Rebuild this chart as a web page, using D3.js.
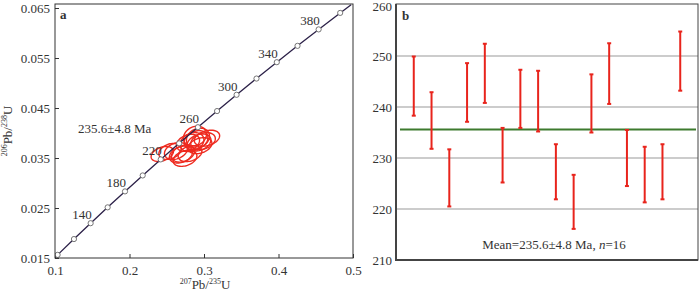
<!DOCTYPE html>
<html>
<head>
  <meta charset="utf-8" />
  <script src="https://d3js.org/d3.v7.min.js"></script>
  <style>
    body{margin:0;background:#fff;}
    svg text{font-family:"Liberation Serif","Times New Roman",serif;fill:#333;}
  </style>
</head>
<body>
<script>
// concordia: ages (Ma) with the two ratios, line endpoints included
var concAge = [96, 100, 120, 140, 160, 180, 200, 220, 240, 260, 280, 300, 320, 340, 360, 380, 400, 410];
var concX = [0.09916, 0.10350, 0.12545, 0.14784, 0.17067, 0.19396, 0.21771, 0.24192, 0.26663, 0.29183, 0.31753, 0.34374, 0.37046, 0.39772, 0.42553, 0.45388, 0.48280, 0.49747];
var concY = [0.01500, 0.01563, 0.01879, 0.02196, 0.02513, 0.02832, 0.03151, 0.03472, 0.03793, 0.04116, 0.04439, 0.04764, 0.05089, 0.05416, 0.05743, 0.06072, 0.06402, 0.06567];
var labelAges = [140, 180, 220, 260, 300, 340, 380];

// spot analyses (207Pb/235U, 206Pb/238U, errors, error correlation)
var r207 = [0.2893, 0.2946, 0.2691, 0.2987, 0.3040, 0.2624, 0.2839, 0.2933, 0.2718, 0.2745, 0.2785, 0.2919, 0.2544, 0.2440, 0.2812, 0.2879];
var e207 = [0.0160, 0.0160, 0.0155, 0.0165, 0.0170, 0.0155, 0.0160, 0.0160, 0.0155, 0.0160, 0.0155, 0.0155, 0.0150, 0.0150, 0.0160, 0.0155];
var r206 = [0.03857, 0.03747, 0.03569, 0.03837, 0.03897, 0.03640, 0.03818, 0.03810, 0.03588, 0.03493, 0.03804, 0.03897, 0.03632, 0.03580, 0.03588, 0.03937];
var e206 = [0.0019, 0.0016, 0.0017, 0.0017, 0.0016, 0.0017, 0.0019, 0.0017, 0.0017, 0.0016, 0.0017, 0.0020, 0.0016, 0.0015, 0.0016, 0.0020];
var rho = [0.25, 0.3, 0.3, 0.3, 0.3, 0.3, 0.25, 0.3, 0.3, 0.3, 0.3, 0.2, 0.3, 0.35, 0.3, 0.2];

// weighted mean plot: 206Pb/238U ages with error bars
var ageHigh = [249.9, 242.9, 231.7, 248.6, 252.4, 235.9, 247.3, 247.1, 232.7, 226.7, 246.4, 252.5, 235.5, 232.2, 232.7, 254.8];
var ageLow = [238.3, 231.8, 220.5, 237.1, 240.8, 225.2, 235.9, 235.2, 221.9, 216.1, 235.0, 240.6, 224.5, 221.3, 221.9, 243.2];
var meanAge = 235.6;
var xTicksA = [0.1, 0.2, 0.3, 0.4, 0.5];
var yTicksA = [0.015, 0.025, 0.035, 0.045, 0.055, 0.065];
var yTicksB = [210, 220, 230, 240, 250, 260];
var gridB = [220, 230, 240, 250];

var svg = d3.select('body').append('svg').attr('width', 700).attr('height', 293);

// ---------- panel a ----------
var xa = d3.scaleLinear().domain([0.1, 0.5]).range([55, 353]);
var ya = d3.scaleLinear().domain([0.015, 0.0658]).range([258, 4]);

svg.append('clipPath').attr('id', 'clipA').append('rect')
  .attr('x', 55).attr('y', 4).attr('width', 298).attr('height', 254);

var ga = svg.append('g');
ga.append('g').attr('transform', 'translate(0,258)')
  .call(d3.axisBottom(xa).tickValues(xTicksA).tickSize(-4).tickPadding(8).tickFormat(d3.format('.1f')));
ga.append('g').attr('transform', 'translate(55,0)')
  .call(d3.axisLeft(ya).tickValues(yTicksA).tickSize(-4).tickPadding(5).tickFormat(d3.format('.3f')));
ga.selectAll('.domain').remove();
ga.selectAll('.tick line').attr('stroke', '#333');
ga.selectAll('.tick text').style('font-size', '13px').attr('fill', '#333');

var plotA = ga.append('g').attr('clip-path', 'url(#clipA)');

// ellipses
var ell = d3.line().x(function(p){return xa(p[0]);}).y(function(p){return ya(p[1]);}).curve(d3.curveLinearClosed);
r207.forEach(function(cx, i){
  var pts = d3.range(0, 64).map(function(k){
    var t = k / 64 * 2 * Math.PI;
    return [cx + e207[i] * Math.cos(t),
            r206[i] + e206[i] * (rho[i] * Math.cos(t) + Math.sqrt(1 - rho[i] * rho[i]) * Math.sin(t))];
  });
  plotA.append('path').attr('d', ell(pts))
    .attr('fill', 'none').attr('stroke', '#ee2a1f').attr('stroke-width', 1.4);
});

// concordia
var conc = concAge.map(function(a, i){return {age: a, x: concX[i], y: concY[i]};});
plotA.append('path').datum(conc)
  .attr('d', d3.line().x(function(d){return xa(d.x);}).y(function(d){return ya(d.y);}))
  .attr('fill', 'none').attr('stroke', '#2c2148').attr('stroke-width', 1.3);
plotA.selectAll('.mk').data(conc.filter(function(d){return d.age % 20 == 0;})).enter()
  .append('circle')
  .attr('cx', function(d){return xa(d.x);}).attr('cy', function(d){return ya(d.y);})
  .attr('r', 2.6).attr('fill', '#fff').attr('stroke', '#666').attr('stroke-width', 0.9);
ga.selectAll('.lab').data(conc.filter(function(d){return labelAges.indexOf(d.age) >= 0;})).enter()
  .append('text')
  .attr('x', function(d){return xa(d.x) + 1;}).attr('y', function(d){return ya(d.y) - 4;})
  .attr('text-anchor', 'end').style('font-size', '13px')
  .text(function(d){return d.age;});

ga.append('text').attr('x', 78).attr('y', 133).style('font-size', '13px').text('235.6±4.8 Ma');
ga.append('text').attr('x', 60).attr('y', 19).style('font-size', '13px').style('font-weight', 'bold').text('a');

ga.append('rect').attr('x', 55).attr('y', 4).attr('width', 298).attr('height', 254)
  .attr('fill', 'none').attr('stroke', '#333').attr('stroke-width', 1);

// axis titles
var xt = ga.append('text').attr('x', 205).attr('y', 289).attr('text-anchor', 'middle').style('font-size', '13px');
xt.append('tspan').attr('dy', -5).style('font-size', '8px').text('207');
xt.append('tspan').attr('dy', 5).text('Pb/');
xt.append('tspan').attr('dy', -5).style('font-size', '8px').text('235');
xt.append('tspan').attr('dy', 5).text('U');
var yt = ga.append('text').attr('transform', 'translate(12,131) rotate(-90)').attr('text-anchor', 'middle').style('font-size', '13px');
yt.append('tspan').attr('dy', -5).style('font-size', '8px').text('206');
yt.append('tspan').attr('dy', 5).text('Pb/');
yt.append('tspan').attr('dy', -5).style('font-size', '8px').text('238');
yt.append('tspan').attr('dy', 5).text('U');

// ---------- panel b ----------
var xb = d3.scaleLinear().domain([0, 17]).range([396, 698]);
var yb = d3.scaleLinear().domain([210, 260]).range([260, 5]);
var gb = svg.append('g');

gb.selectAll('.grid').data(gridB).enter().append('line')
  .attr('x1', 396).attr('x2', 698)
  .attr('y1', function(d){return yb(d);}).attr('y2', function(d){return yb(d);})
  .attr('stroke', '#bbb').attr('stroke-width', 1.3);

gb.append('g').attr('transform', 'translate(396,0)')
  .call(d3.axisLeft(yb).tickValues(yTicksB).tickSize(0).tickPadding(4))
  .call(function(g){g.select('.domain').remove();})
  .selectAll('text').style('font-size', '13px').attr('fill', '#444')
  .attr('dy', function(d){return d == 260 ? '0.42em' : '0.32em';});

gb.append('line').attr('x1', 400).attr('x2', 696)
  .attr('y1', yb(meanAge)).attr('y2', yb(meanAge))
  .attr('stroke', '#3d7a2e').attr('stroke-width', 2);

var bars = ageHigh.map(function(h, i){return {i: i + 1, hi: h, lo: ageLow[i]};});
var bg = gb.selectAll('.bar').data(bars).enter().append('g').attr('stroke', '#e8241c');
bg.append('line').attr('x1', function(d){return xb(d.i);}).attr('x2', function(d){return xb(d.i);})
  .attr('y1', function(d){return yb(d.hi);}).attr('y2', function(d){return yb(d.lo);})
  .attr('stroke-width', 2);
bg.append('line').attr('x1', function(d){return xb(d.i) - 2;}).attr('x2', function(d){return xb(d.i) + 2;})
  .attr('y1', function(d){return yb(d.hi);}).attr('y2', function(d){return yb(d.hi);}).attr('stroke-width', 2);
bg.append('line').attr('x1', function(d){return xb(d.i) - 2;}).attr('x2', function(d){return xb(d.i) + 2;})
  .attr('y1', function(d){return yb(d.lo);}).attr('y2', function(d){return yb(d.lo);}).attr('stroke-width', 2);

var mt = gb.append('text').attr('x', 554).attr('y', 249).attr('text-anchor', 'middle').style('font-size', '13px');
mt.append('tspan').text('Mean=235.6±4.8 Ma,  ');
mt.append('tspan').style('font-style', 'italic').text('n');
mt.append('tspan').text('=16');
gb.append('text').attr('x', 402).attr('y', 20).style('font-size', '13px').style('font-weight', 'bold').text('b');

// frame: thin top/right, heavier left/bottom
gb.append('rect').attr('x', 396).attr('y', 4).attr('width', 302).attr('height', 256)
  .attr('fill', 'none').attr('stroke', '#444').attr('stroke-width', 1);
gb.append('path').attr('d', 'M396,4V260H698').attr('fill', 'none').attr('stroke', '#444').attr('stroke-width', 2);
</script>
</body>
</html>
